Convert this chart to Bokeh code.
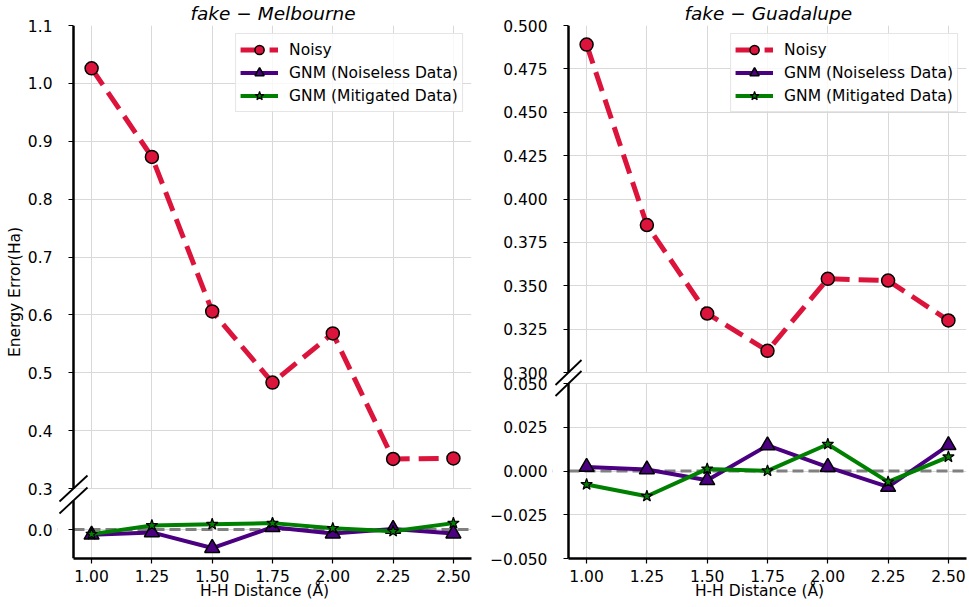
import math
from bokeh.plotting import figure
from bokeh.models import (Range1d, FixedTicker, CustomJSTickFormatter, Legend, LegendItem,
                          BoxAnnotation, Span)
from bokeh.layouts import row
from bokeh.embed import file_html
from bokeh.resources import INLINE

# ---------------- data ----------------
distance = [1.00, 1.25, 1.50, 1.75, 2.00, 2.25, 2.50]
x_ticks = [1.00, 1.25, 1.50, 1.75, 2.00, 2.25, 2.50]

mel_noisy = [1.026, 0.873, 0.606, 0.483, 0.568, 0.351, 0.352]
mel_noiseless = [-0.009, -0.005, -0.032, 0.004, -0.007, 0.001, -0.007]
mel_mitigated = [-0.008, 0.007, 0.009, 0.011, 0.002, -0.003, 0.011]

gua_noisy = [0.489, 0.385, 0.334, 0.3125, 0.354, 0.353, 0.330]
gua_noiseless = [0.0023, 0.0009, -0.0053, 0.0146, 0.0022, -0.0091, 0.0147]
gua_mitigated = [-0.0077, -0.0144, 0.0012, 0.0001, 0.0153, -0.0062, 0.0081]

mel_top_ticks = [0.3, 0.4, 0.5, 0.6, 0.7, 0.8, 0.9, 1.0, 1.1]
mel_bottom_ticks = [0.0]
gua_top_ticks = [0.300, 0.325, 0.350, 0.375, 0.400, 0.425, 0.450, 0.475, 0.500]
gua_bottom_ticks = [-0.050, -0.025, 0.000, 0.025, 0.050]

mel_top_lim = (0.3, 1.1)
gua_top_lim = (0.3, 0.5)
bottom_lim = (-0.05, 0.05)
x_lim = (0.925, 2.575)

titles = ["fake \u2212 Melbourne", "fake \u2212 Guadalupe"]
series_labels = ["Noisy", "GNM (Noiseless Data)", "GNM (Mitigated Data)"]
y_label = "Energy Error(Ha)"
x_label = "H-H Distance (\u00c5)"

# ---------------- styles ----------------
FONT = "DejaVu Sans"
FS = "15.5px"
C_NOISY = "#DC143C"
C_NL = "#4B0082"
C_MIT = "#008000"
GRID = "#d9d9d9"

SPINE_W = 398          # px from the left spine to the right frame edge
EXT = 16               # px of frame kept left of the spine (for the break marks)
TICK = 5               # outward tick length at the spine
X_PX = SPINE_W / (x_lim[1] - x_lim[0])
X_START = x_lim[0] - EXT / X_PX


def style_axis(ax, label_standoff):
    ax.axis_line_color = "black"
    ax.axis_line_width = 2.5
    ax.major_tick_line_color = "black"
    ax.major_tick_line_width = 1.2
    ax.major_tick_in = 0
    ax.major_tick_out = TICK
    ax.minor_tick_line_color = None
    ax.major_label_text_font = FONT
    ax.major_label_text_font_size = FS
    ax.major_label_text_color = "black"
    ax.major_label_standoff = label_standoff
    ax.axis_label_text_font = FONT
    ax.axis_label_text_font_size = FS
    ax.axis_label_text_font_style = "normal"
    ax.axis_label_text_color = "black"


def build(title, title_w, top_lim, bot_lim, top_ticks, bot_ticks, digits,
          noisy, noiseless, mitigated, top_px, gap_px, bot_px, borders, hx, hy, ylab=None):
    s = top_px / (top_lim[1] - top_lim[0])            # px per unit (top part)
    k = bot_px / ((bot_lim[1] - bot_lim[0]) * s)      # bottom part stretch
    gap_u = gap_px / s
    off = top_lim[0] - gap_u - bot_lim[1] * k

    def m(v):
        return off + v * k

    c_lo, c_bhi = m(bot_lim[0]), m(bot_lim[1])
    fh = top_px + gap_px + bot_px
    ml, mr, mt, mb = borders

    p = figure(frame_width=SPINE_W + EXT, frame_height=fh,
               x_range=Range1d(X_START, x_lim[1]), y_range=Range1d(c_lo, top_lim[1]),
               title=title, output_backend="svg", toolbar_location=None,
               min_border_left=ml, min_border_right=mr, min_border_top=mt, min_border_bottom=mb,
               background_fill_color="white", border_fill_color="white",
               outline_line_color=None)
    p.title.align = "left"
    p.title.offset = EXT + (SPINE_W - title_w) / 2.0
    p.title.vertical_align = "top"
    p.title.text_font = FONT
    p.title.text_font_style = "italic"
    p.title.text_font_size = "18.5px"
    p.title.text_color = "black"
    p.title.standoff = 0

    y_ticks = list(top_ticks) + [m(t) for t in bot_ticks]
    split = (top_lim[0] + c_bhi) / 2.0

    # grids
    p.xgrid.ticker = FixedTicker(ticks=x_ticks)
    p.ygrid.ticker = FixedTicker(ticks=y_ticks)
    for g in (p.xgrid, p.ygrid):
        g.grid_line_color = GRID
        g.grid_line_width = 1

    # y axis: sits at the frame edge, ticks/labels shifted to the spine
    yax = p.yaxis[0]
    style_axis(yax, 5)
    yax.axis_line_color = None
    yax.major_tick_in = EXT
    yax.major_tick_out = TICK - EXT
    yax.ticker = FixedTicker(ticks=y_ticks)
    yax.formatter = CustomJSTickFormatter(
        args=dict(off=off, k=k, split=split, digits=digits),
        code="""
        let v = tick;
        if (tick < split) { v = (tick - off) / k; }
        if (Math.abs(v) < 1e-9) { v = 0; }
        return v.toFixed(digits).replace('-', '\\u2212');
        """)
    if ylab:
        yax.axis_label = ylab
        yax.axis_label_standoff = 1

    # x axis
    xax = p.xaxis[0]
    style_axis(xax, 6)
    xax.bounds = x_lim
    xax.ticker = FixedTicker(ticks=x_ticks)
    xax.formatter = CustomJSTickFormatter(code="return tick.toFixed(2)")
    xax.axis_label = x_label
    xax.axis_label_standoff = -3

    # zero reference line of the lower part
    p.add_layout(Span(location=m(0.0), dimension="width", line_color="#808080",
                      line_width=3, line_dash="11 5", level="underlay"))
    # blank out the area left of the spine and the gap between the two parts
    p.add_layout(BoxAnnotation(right=x_lim[0], fill_color="white", fill_alpha=1.0,
                               line_color=None, level="underlay"))
    eps = 0.6 / s
    p.add_layout(BoxAnnotation(bottom=c_bhi + eps, top=top_lim[0] - eps, fill_color="white",
                               fill_alpha=1.0, line_color=None, level="underlay"))

    # spines of both parts
    p.segment(x0=[x_lim[0], x_lim[0]], y0=[top_lim[0], c_lo],
              x1=[x_lim[0], x_lim[0]], y1=[top_lim[1], c_bhi],
              line_color="black", line_width=2.5)

    # break marks at the broken spine
    xs, ys = [], []
    for cy in (top_lim[0], c_bhi):
        xs.append([x_lim[0] - hx / X_PX, x_lim[0] + hx / X_PX])
        ys.append([cy - hy / s, cy + hy / s])
    p.multi_line(xs, ys, line_color="black", line_width=1.8)

    # series
    l0 = p.line(distance, noisy, line_color=C_NOISY, line_width=5, line_dash="20 9")
    s0 = p.scatter(distance, noisy, marker="circle", size=13, fill_color=C_NOISY,
                   line_color="black", line_width=1.5)
    nl_c = [m(v) for v in noiseless]
    mit_c = [m(v) for v in mitigated]
    l1 = p.line(distance, nl_c, line_color=C_NL, line_width=4)
    s1 = p.scatter(distance, nl_c, marker="triangle", size=15, fill_color=C_NL,
                   line_color="black", line_width=1.5)
    l2 = p.line(distance, mit_c, line_color=C_MIT, line_width=4)
    s2 = p.scatter(distance, mit_c, marker="star", size=12, fill_color=C_MIT,
                   line_color="black", line_width=1.2)

    groups = [[l0, s0], [l1, s1], [l2, s2]]
    items = [LegendItem(label=lab, renderers=rs) for lab, rs in zip(series_labels, groups)]
    leg = Legend(items=items, location="top_right", margin=8, padding=4, spacing=0,
                 glyph_width=38, glyph_height=23, label_height=20, label_standoff=11,
                 label_text_font=FONT, label_text_font_size=FS, label_text_color="black",
                 border_line_color="#cccccc", border_line_width=1,
                 background_fill_color="white", background_fill_alpha=0.8)
    p.add_layout(leg)
    return p


left = build(titles[0], 164, mel_top_lim, bottom_lim, mel_top_ticks, mel_bottom_ticks, 1,
             mel_noisy, mel_noiseless, mel_mitigated,
             top_px=463, gap_px=12, bot_px=58, borders=(57, 16, 25, 45),
             hx=14, hy=13, ylab=y_label)
right = build(titles[1], 166, gua_top_lim, bottom_lim, gua_top_ticks, gua_bottom_ticks, 3,
              gua_noisy, gua_noiseless, gua_mitigated,
              top_px=347, gap_px=11, bot_px=175, borders=(63, 2, 25, 45),
              hx=13, hy=12.5)

layout = row(left, right)

open("out.html", "w").write(file_html(layout, INLINE, title="Energy error"))
